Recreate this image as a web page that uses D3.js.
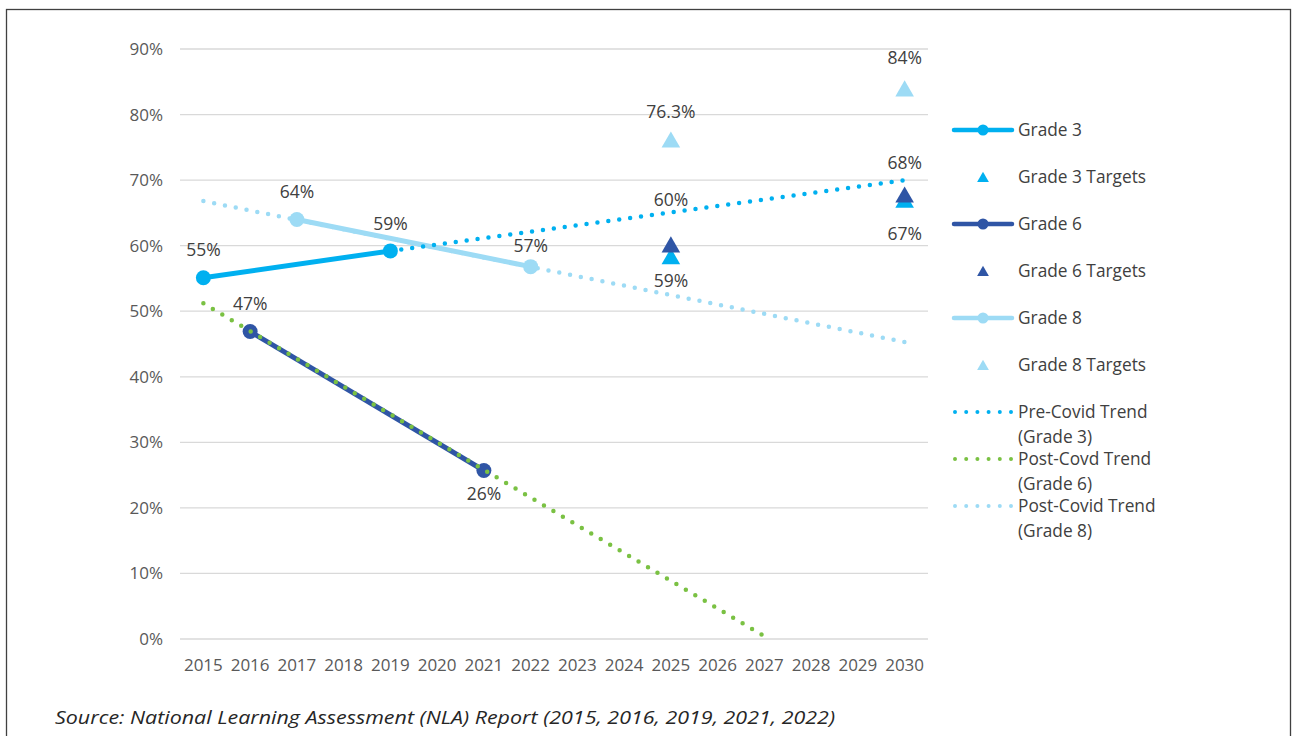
<!DOCTYPE html>
<html>
<head>
<meta charset="utf-8">
<script src="https://cdn.jsdelivr.net/npm/d3@7"></script>
<style>
  body { margin: 0; background: #fff; }
  text { font-family: "Open Sans", "Noto Sans", sans-serif; }
</style>
</head>
<body>
<svg id="chart"></svg>
<script>
// data (values in %)
var years = d3.range(2015, 2031);
var yTicks = [0, 10, 20, 30, 40, 50, 60, 70, 80, 90];

var grade3 = [[2015, 55.1], [2019, 59.2]];
var grade6 = [[2016, 46.9], [2021, 25.7]];
var grade8 = [[2017, 64.0], [2022, 56.8]];

var grade3Targets = [[2025, 58.4], [2030, 67.0]];
var grade6Targets = [[2025, 60.2], [2030, 67.8]];
var grade8Targets = [[2025, 76.2], [2030, 84.0]];

var preCovid3 = [[2019, 59.2], [2030, 70.0]];
var postCovid6 = [[2015, 51.2], [2027.1, 0]];
var postCovid8 = [[2015, 66.8], [2030, 45.3]];

// data labels: [year, value, text]
var labels = [
  [2015, 55.1, "55%"], [2019, 59.2, "59%"],
  [2016, 46.9, "47%"], [2021, 25.7, "26%"],
  [2017, 64.0, "64%"], [2022, 56.8, "57%"],
  [2025, 76.2, "76.3%"], [2030, 84.0, "84%"],
  [2025, 60.2, "60%"], [2025, 58.4, "59%"],
  [2030, 67.8, "68%"], [2030, 67.0, "67%"]
];
// vertical label offsets (px), same order as labels
var labelOffsets = [-28, -27, -28, 23, -28, -21, -28, -30, -44, 25, -32, 34];

var c3 = "#00B0F0", c6 = "#2F55A5", c8 = "#9DDBF5", cg = "#7AC143";

var W = 1292, H = 736;
var svg = d3.select("#chart").attr("width", W).attr("height", H);

// frame
svg.append("rect")
  .attr("x", 6.5).attr("y", 9.5)
  .attr("width", 1284).attr("height", 740)
  .attr("fill", "none").attr("stroke", "#404040").attr("stroke-width", 1.3);

var x = d3.scaleLinear().domain([2014.5, 2030.5]).range([180, 928]);
var y = d3.scaleLinear().domain([0, 90]).range([639, 49]);

// gridlines
svg.append("g").selectAll("line")
  .data(yTicks)
  .enter().append("line")
  .attr("x1", 180).attr("x2", 928)
  .attr("y1", function(d) { return y(d); })
  .attr("y2", function(d) { return y(d); })
  .attr("stroke", "#D9D9D9").attr("stroke-width", 1.3);

// y tick labels
svg.append("g").selectAll("text")
  .data(yTicks)
  .enter().append("text")
  .attr("x", 163)
  .attr("y", function(d) { return y(d); })
  .attr("dy", "0.35em")
  .attr("text-anchor", "end")
  .style("font-size", "17px")
  .style("fill", "#595959")
  .text(function(d) { return d + "%"; });

// x tick labels
svg.append("g").selectAll("text")
  .data(years)
  .enter().append("text")
  .attr("x", function(d) { return x(d); })
  .attr("y", 665)
  .attr("dy", "0.35em")
  .attr("text-anchor", "middle")
  .style("font-size", "17px")
  .style("fill", "#595959")
  .text(function(d) { return d; });

var line = d3.line()
  .x(function(d) { return x(d[0]); })
  .y(function(d) { return y(d[1]); });

function dotted(data, color) {
  svg.append("path")
    .attr("d", line(data))
    .attr("fill", "none")
    .attr("stroke", color)
    .attr("stroke-width", 4.5)
    .attr("stroke-linecap", "round")
    .attr("stroke-dasharray", "0 11");
}

function solid(data, color) {
  svg.append("path")
    .attr("d", line(data))
    .attr("fill", "none")
    .attr("stroke", color)
    .attr("stroke-width", 5);
  svg.append("g").selectAll("circle")
    .data(data)
    .enter().append("circle")
    .attr("cx", function(d) { return x(d[0]); })
    .attr("cy", function(d) { return y(d[1]); })
    .attr("r", 7.5)
    .attr("fill", color);
}

// triangles centred on their bounding box, like the Excel markers
var triSize = 150;
var triShift = Math.sqrt(triSize / (3 * Math.sqrt(3))) / 2;
var tri = d3.symbol().type(d3.symbolTriangle).size(triSize);

function targets(data, color) {
  svg.append("g").selectAll("path")
    .data(data)
    .enter().append("path")
    .attr("d", tri)
    .attr("transform", function(d) { return "translate(" + x(d[0]) + "," + (y(d[1]) + triShift) + ")"; })
    .attr("fill", color);
}

dotted(postCovid8, c8);
solid(grade8, c8);
solid(grade3, c3);
dotted(preCovid3, c3);
solid(grade6, c6);
dotted(postCovid6, cg);

targets(grade8Targets, c8);
targets(grade3Targets, c3);
targets(grade6Targets, c6);

// data labels
svg.append("g").selectAll("text")
  .data(labels)
  .enter().append("text")
  .attr("x", function(d) { return x(d[0]); })
  .attr("y", function(d, i) { return y(d[1]) + labelOffsets[i]; })
  .attr("dy", "0.35em")
  .attr("text-anchor", "middle")
  .style("font-size", "17.5px")
  .style("fill", "#404040")
  .text(function(d) { return d[2]; });

// legend
var legendItems = [
  { name: ["Grade 3"], color: c3, kind: "line" },
  { name: ["Grade 3 Targets"], color: c3, kind: "tri" },
  { name: ["Grade 6"], color: c6, kind: "line" },
  { name: ["Grade 6 Targets"], color: c6, kind: "tri" },
  { name: ["Grade 8"], color: c8, kind: "line" },
  { name: ["Grade 8 Targets"], color: c8, kind: "tri" },
  { name: ["Pre-Covid Trend", "(Grade 3)"], color: c3, kind: "dot" },
  { name: ["Post-Covd Trend", "(Grade 6)"], color: cg, kind: "dot" },
  { name: ["Post-Covid Trend", "(Grade 8)"], color: c8, kind: "dot" }
];

var lg = svg.append("g").selectAll("g")
  .data(legendItems)
  .enter().append("g")
  .attr("transform", function(d, i) { return "translate(0," + (130 + i * 47) + ")"; });

lg.each(function(d) {
  var g = d3.select(this);
  if (d.kind == "line") {
    g.append("line").attr("x1", 954).attr("x2", 1012).attr("y1", 0).attr("y2", 0)
      .attr("stroke", d.color).attr("stroke-width", 4.5).attr("stroke-linecap", "round");
    g.append("circle").attr("cx", 983).attr("cy", 0).attr("r", 5.5).attr("fill", d.color);
  } else if (d.kind == "tri") {
    g.append("path").attr("d", d3.symbol().type(d3.symbolTriangle).size(60))
      .attr("transform", "translate(983,1.5)").attr("fill", d.color);
  } else {
    g.append("line").attr("x1", 955).attr("x2", 1012).attr("y1", 0).attr("y2", 0)
      .attr("stroke", d.color).attr("stroke-width", 4).attr("stroke-linecap", "round")
      .attr("stroke-dasharray", "0 11.2");
  }
  g.selectAll("text")
    .data(d.name)
    .enter().append("text")
    .attr("x", 1018)
    .attr("y", function(t, j) { return j * 25; })
    .attr("dy", "0.35em")
    .style("font-size", "17.3px")
    .style("fill", "#404040")
    .text(function(t) { return t; });
});

// source
svg.append("text")
  .attr("x", 55).attr("y", 718)
  .attr("dy", "0.35em")
  .attr("textLength", 780)
  .attr("lengthAdjust", "spacingAndGlyphs")
  .style("font-size", "18px")
  .style("font-style", "italic")
  .style("fill", "#262626")
  .text("Source: National Learning Assessment (NLA) Report (2015, 2016, 2019, 2021, 2022)");
</script>
</body>
</html>
